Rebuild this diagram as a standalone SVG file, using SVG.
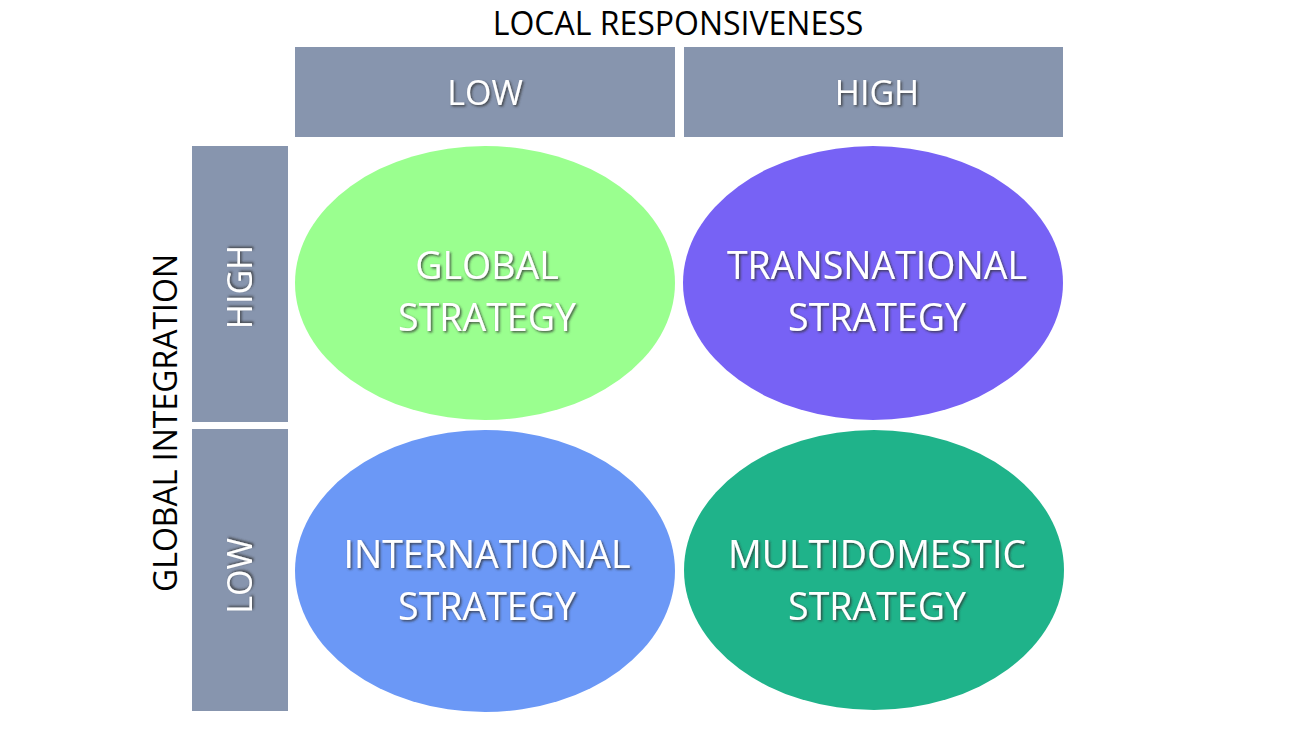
<svg xmlns="http://www.w3.org/2000/svg" width="1300" height="730" viewBox="0 0 1300 730">
<defs>
<filter id="sh" x="-10%" y="-10%" width="120%" height="130%">
<feDropShadow dx="1.5" dy="1.5" stdDeviation="0.8" flood-color="#333" flood-opacity="0.8"/>
</filter>
</defs>
<style>
.box{fill:#8795ae}
.axis{font-family:"Open Sans","Liberation Sans",sans-serif;font-size:32px;fill:#000;text-anchor:middle}
.lbl{font-family:"Open Sans","Liberation Sans",sans-serif;font-size:34px;fill:#fff;text-anchor:middle;filter:url(#sh)}
.ell{font-family:"Open Sans","Liberation Sans",sans-serif;font-size:37.5px;fill:#fff;text-anchor:middle;filter:url(#sh)}
</style>
<rect width="1300" height="730" fill="#fff"/>
<text class="axis" x="678" y="35">LOCAL RESPONSIVENESS</text>
<text class="axis" transform="translate(177,423) rotate(-90)">GLOBAL INTEGRATION</text>
<g id="top-low"><rect class="box" x="295" y="47" width="380" height="90"/><text class="lbl" x="485" y="105">LOW</text></g>
<g id="top-high"><rect class="box" x="684" y="47" width="379" height="90"/><text class="lbl" x="877" y="105">HIGH</text></g>
<g id="left-high"><rect class="box" x="192" y="146" width="96" height="276"/><text class="lbl" transform="translate(252,287) rotate(-90)">HIGH</text></g>
<g id="left-low"><rect class="box" x="192" y="429" width="96" height="282"/><text class="lbl" transform="translate(252,576) rotate(-90)">LOW</text></g>
<g id="global"><ellipse cx="485" cy="283" rx="190" ry="137" fill="#9aff8f"/><text class="ell" x="487" y="279">GLOBAL</text><text class="ell" x="487" y="331">STRATEGY</text></g>
<g id="transnational"><ellipse cx="873" cy="283" rx="190" ry="137" fill="#7762f5"/><text class="ell" x="877" y="279">TRANSNATIONAL</text><text class="ell" x="877" y="331">STRATEGY</text></g>
<g id="international"><ellipse cx="485" cy="571" rx="190" ry="141" fill="#6b98f6"/><text class="ell" x="487" y="568">INTERNATIONAL</text><text class="ell" x="487" y="620">STRATEGY</text></g>
<g id="multidomestic"><ellipse cx="874" cy="570" rx="190" ry="140" fill="#1fb38a"/><text class="ell" x="877" y="568">MULTIDOMESTIC</text><text class="ell" x="877" y="620">STRATEGY</text></g>
<g id="connectors"/>
</svg>
